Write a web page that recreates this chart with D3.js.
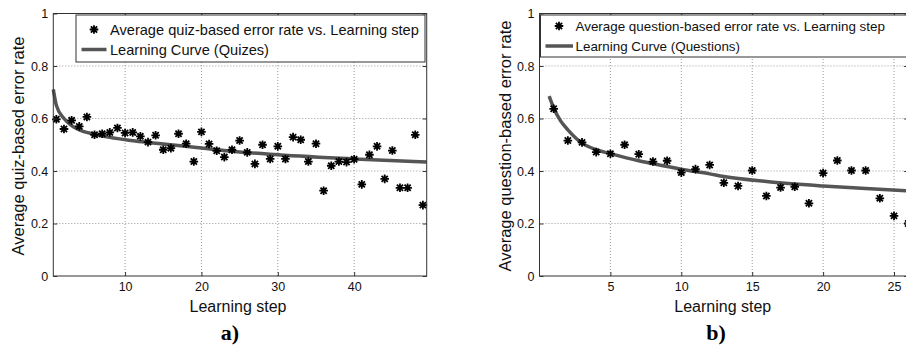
<!DOCTYPE html>
<html>
<head>
<meta charset="utf-8">
<script src="https://cdn.jsdelivr.net/npm/d3@7"></script>
<style>
  body { margin: 0; background: #fff; }
  svg { display: block; font-family: "Liberation Sans", Arial, sans-serif; }
</style>
</head>
<body>
<svg id="chart" width="906" height="349"></svg>
<script>
// panel a) quiz-based error rate
const quizSteps = d3.range(1, 50);
const quizError = [
  0.597, 0.560, 0.593, 0.570, 0.606, 0.538, 0.542, 0.547, 0.564, 0.545,
  0.547, 0.532, 0.510, 0.536, 0.481, 0.487, 0.542, 0.504, 0.436, 0.549,
  0.503, 0.477, 0.453, 0.481, 0.516, 0.471, 0.427, 0.500, 0.446, 0.494,
  0.446, 0.529, 0.519, 0.436, 0.504, 0.325, 0.420, 0.436, 0.434, 0.445,
  0.349, 0.462, 0.494, 0.370, 0.478, 0.336, 0.336, 0.538, 0.270
];
const quizCurveSteps = [0.6, 1, 2, 3, 4.5, 6, 8, 10.5, 15, 20, 24, 30, 40, 49.5];
const quizCurveError = [0.711, 0.65, 0.60, 0.573, 0.551, 0.540, 0.528, 0.517, 0.503, 0.488, 0.475, 0.462, 0.446, 0.434];

// panel b) question-based error rate
const questionSteps = d3.range(1, 27);
const questionError = [
  0.637, 0.516, 0.509, 0.472, 0.466, 0.500, 0.464, 0.436, 0.439, 0.394,
  0.407, 0.423, 0.355, 0.343, 0.402, 0.305, 0.337, 0.340, 0.277, 0.392,
  0.440, 0.402, 0.402, 0.296, 0.229, 0.200
];
const questionCurveSteps = [0.68, 1, 1.5, 2, 3, 4, 5, 7, 8, 10, 12, 13, 16, 20, 23, 26];
const questionCurveError = [0.685, 0.64, 0.59, 0.557, 0.506, 0.481, 0.466, 0.439, 0.428, 0.407, 0.389, 0.379, 0.36, 0.343, 0.333, 0.324];

const yTicks = [0, 0.2, 0.4, 0.6, 0.8, 1];
const quizXTicks = [10, 20, 30, 40];
const questionXTicks = [5, 10, 15, 20, 25];

const svg = d3.select("#chart");
const axisColor = "#333";
const gridColor = "#9a9a9a";
const curveColor = "#555";

function starPath(r) {
    const d = r * 0.72;
    return `M0,${-r}V${r}M${-r},0H${r}M${-d},${-d}L${d},${d}M${-d},${d}L${d},${-d}`;
}

function drawPanel(p) {
    const x = d3.scaleLinear().domain(p.xDomain).range(p.xRange);
    const y = d3.scaleLinear().domain([0, 1]).range([276, 13.5]);
    const [x0, x1] = p.xRange;
    const g = svg.append("g");

    // dotted grid
    g.append("g")
        .selectAll("line")
        .data(p.xTicks)
        .join("line")
        .attr("x1", d => x(d)).attr("x2", d => x(d))
        .attr("y1", y(0)).attr("y2", y(1))
        .attr("stroke", gridColor)
        .attr("stroke-dasharray", "1,2");
    g.append("g")
        .selectAll("line")
        .data(yTicks.filter(d => d > 0 && d < 1))
        .join("line")
        .attr("x1", x0).attr("x2", x1)
        .attr("y1", d => y(d)).attr("y2", d => y(d))
        .attr("stroke", gridColor)
        .attr("stroke-dasharray", "1,2");

    // curve
    const line = d3.line()
        .x((d, i) => x(p.curveSteps[i]))
        .y(d => y(d))
        .curve(d3.curveMonotoneX);
    g.append("path")
        .attr("d", line(p.curveError))
        .attr("fill", "none")
        .attr("stroke", curveColor)
        .attr("stroke-width", 3.5);

    // stars
    g.append("g")
        .selectAll("path")
        .data(p.error)
        .join("path")
        .attr("transform", (d, i) => `translate(${x(p.steps[i])},${y(d)})`)
        .attr("d", starPath(4.3))
        .attr("stroke", "#000")
        .attr("stroke-width", 1.8)
        .attr("fill", "none");

    // axes with inward ticks (matlab style)
    const styleAxis = sel => {
        sel.select(".domain").remove();
        sel.selectAll(".tick line").attr("stroke", axisColor);
        sel.selectAll("text").attr("fill", "#111").attr("font-size", 12.5)
            .attr("font-family", "Liberation Sans, Arial, sans-serif");
    };
    g.append("g").attr("transform", `translate(0,${y(0)})`)
        .call(d3.axisBottom(x).tickValues(p.xTicks).tickSize(-4).tickPadding(6))
        .call(styleAxis);
    g.append("g").attr("transform", `translate(0,${y(1)})`)
        .call(d3.axisTop(x).tickValues(p.xTicks).tickSize(-4).tickFormat(""))
        .call(styleAxis);
    g.append("g").attr("transform", `translate(${x0},0)`)
        .call(d3.axisLeft(y).tickValues(yTicks).tickSize(-4).tickPadding(5).tickFormat(d => String(d)))
        .call(styleAxis);
    g.append("g").attr("transform", `translate(${x1},0)`)
        .call(d3.axisRight(y).tickValues(yTicks).tickSize(-4).tickFormat(""))
        .call(styleAxis);

    g.append("rect")
        .attr("x", x0).attr("y", y(1))
        .attr("width", x1 - x0).attr("height", y(0) - y(1))
        .attr("fill", "none")
        .attr("stroke", axisColor);

    // legend
    const lg = g.append("g");
    lg.append("rect")
        .attr("x", p.legend.x).attr("y", p.legend.y)
        .attr("width", p.legend.w).attr("height", p.legend.h)
        .attr("fill", "#fff")
        .attr("stroke", axisColor);
    lg.append("path")
        .attr("transform", `translate(${p.legend.x + p.legend.markX},${p.legend.row1})`)
        .attr("d", starPath(4.3))
        .attr("stroke", "#000")
        .attr("stroke-width", 1.8);
    lg.append("line")
        .attr("x1", p.legend.x + p.legend.lineX0).attr("x2", p.legend.x + p.legend.lineX1)
        .attr("y1", p.legend.row2).attr("y2", p.legend.row2)
        .attr("stroke", curveColor)
        .attr("stroke-width", 3.5);
    lg.selectAll("text")
        .data([p.legend.text1, p.legend.text2])
        .join("text")
        .attr("x", p.legend.x + p.legend.textX)
        .attr("y", (d, i) => (i === 0 ? p.legend.row1 : p.legend.row2))
        .attr("dy", "0.35em")
        .attr("font-size", p.legend.fontSize)
        .attr("fill", "#111")
        .text(d => d);

    // axis titles
    g.append("text")
        .attr("x", (x0 + Math.min(x1, 906)) / 2 + p.xLabelShift)
        .attr("y", 312)
        .attr("text-anchor", "middle")
        .attr("font-size", 16)
        .attr("fill", "#111")
        .text("Learning step");
    g.append("text")
        .attr("transform", `translate(${p.yLabelX},${p.yLabelY}) rotate(-90)`)
        .attr("text-anchor", "middle")
        .attr("font-size", 16.5)
        .attr("fill", "#111")
        .text(p.yLabel);
    g.append("text")
        .attr("x", p.tagX)
        .attr("y", 340)
        .attr("text-anchor", "middle")
        .attr("font-family", "Liberation Serif, 'Times New Roman', serif")
        .attr("font-weight", "bold")
        .attr("font-size", 22)
        .attr("fill", "#000")
        .text(p.tag);
}

drawPanel({
    steps: quizSteps, error: quizError,
    curveSteps: quizCurveSteps, curveError: quizCurveError,
    xDomain: [0.6, 49.5], xRange: [53.3, 426.7], xTicks: quizXTicks,
    yLabel: "Average quiz-based error rate", yLabelX: 24, yLabelY: 146,
    xLabelShift: -2, tag: "a)", tagX: 230,
    legend: {
        x: 76, y: 15, w: 349, h: 47, row1: 29.5, row2: 49.5,
        markX: 18, lineX0: 5.5, lineX1: 30.5, textX: 34, fontSize: 14.6,
        text1: "Average quiz-based error rate vs. Learning step",
        text2: "Learning Curve (Quizes)"
    }
});

drawPanel({
    steps: questionSteps, error: questionError,
    curveSteps: questionCurveSteps, curveError: questionCurveError,
    xDomain: [0, 26], xRange: [539.5, 908.2], xTicks: questionXTicks,
    yLabel: "Average question-based error rate", yLabelX: 511, yLabelY: 146,
    xLabelShift: 0, tag: "b)", tagX: 716,
    legend: {
        x: 540.5, y: 15, w: 380, h: 42, row1: 26, row2: 46,
        markX: 18.5, lineX0: 5, lineX1: 32.5, textX: 35, fontSize: 13.4,
        text1: "Average question-based error rate vs. Learning step",
        text2: "Learning Curve (Questions)"
    }
});
</script>
</body>
</html>
